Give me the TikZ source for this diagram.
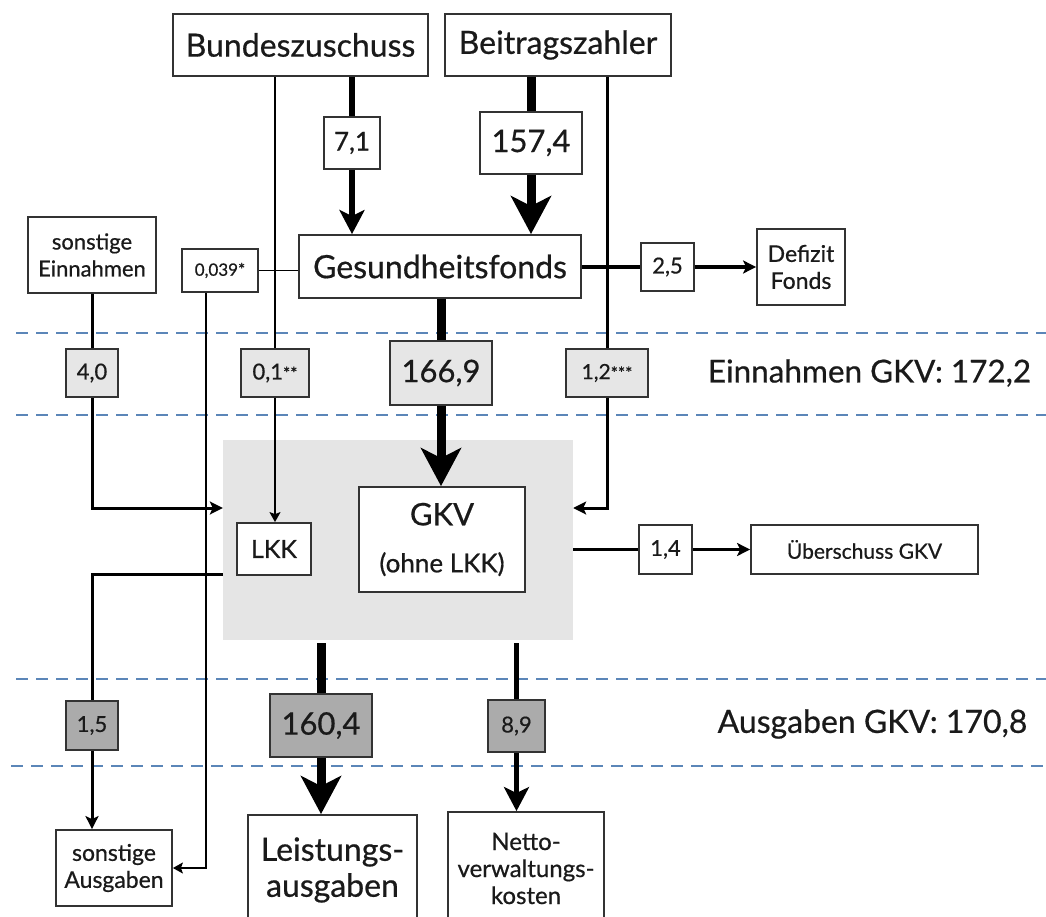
\documentclass[tikz,border=0pt]{standalone}
\usepackage{fontspec}
\setmainfont{Lato}[FakeBold=0.6,AutoFakeBold=0.6]
\usetikzlibrary{arrows.meta}
\definecolor{lgray}{HTML}{E6E6E6}
\definecolor{dgray}{HTML}{ABABAB}
\definecolor{kvgray}{HTML}{E5E5E5}
\definecolor{dashblue}{HTML}{5B86B8}
\definecolor{bord}{HTML}{333333}
\definecolor{txt}{HTML}{1A1A1A}
\newcommand\fs[2]{\fontsize{#1}{#2}\selectfont}
\tikzset{
  box/.style={draw=bord, line width=1.8pt, fill=white, inner sep=0pt, align=center, text=txt},
  lbox/.style={box, fill=lgray},
  dbox/.style={box, fill=dgray},
  thinln/.style={line width=1.6pt, draw=black},
  medln/.style={line width=3pt, draw=black},
  fatln/.style={line width=5.5pt, draw=black},
  hugeln/.style={line width=9pt, draw=black},
  tipS/.style={-{Stealth[length=10pt,width=11pt,inset=2pt]}},
  tipM/.style={-{Stealth[length=13pt,width=13pt,inset=3pt]}},
  tipF/.style={-{Stealth[length=24pt,width=25pt,inset=6pt]}},
  tipH/.style={-{Stealth[length=38pt,width=40pt,inset=10pt]}},
  sepline/.style={draw=dashblue, line width=1.5pt, dash pattern=on 12pt off 8pt},
}
\begin{document}
\begin{tikzpicture}[x=1pt,y=-1pt]
\useasboundingbox (0,0) rectangle (1046,917);
\clip (0,0) rectangle (1046,917);
% separators
\coordinate (s1a) at (16,333); \coordinate (s1b) at (1046,333);
\coordinate (s2a) at (16,415); \coordinate (s2b) at (1046,415);
\coordinate (s3a) at (16,679); \coordinate (s3b) at (1046,679);
\coordinate (s4a) at (11,766); \coordinate (s4b) at (1046,766);
\draw[sepline] (s1a) -- (s1b);
\draw[sepline] (s2a) -- (s2b);
\draw[sepline] (s3a) -- (s3b);
\draw[sepline] (s4a) -- (s4b);
% grey GKV area
\node[fill=kvgray, minimum width=350pt, minimum height=200pt, inner sep=0pt] (kv) at (398,540) {};
% nodes
\node[box, minimum width=255pt, minimum height=62pt, font=\fs{32}{36}] (bund) at (300.5,45) {Bundeszuschuss};
\node[box, minimum width=226pt, minimum height=62pt, font=\fs{32}{36}] (beit) at (558,45) {Beitragszahler};
\node[box, minimum width=56pt, minimum height=52pt, font=\fs{26}{28}] (v71) at (352,143) {7,1};
\node[box, minimum width=102pt, minimum height=62pt, font=\fs{31}{34}] (v157) at (531,143) {157,4};
\node[box, minimum width=282pt, minimum height=63pt, font=\fs{32}{36}] (fonds) at (440,266.5) {Gesundheitsfonds};
\node[box, minimum width=128pt, minimum height=76pt, font=\fs{22}{27}] (sonstE) at (92,255) {sonstige\\Einnahmen};
\node[box, minimum width=76pt, minimum height=43pt, font=\fs{17}{18}] (v0039) at (220,270.5) {0,039*};
\node[box, minimum width=88pt, minimum height=76pt, font=\fs{23}{27}] (defizit) at (801,267) {Defizit\\Fonds};
\node[box, minimum width=53pt, minimum height=48pt, font=\fs{22}{24}] (v25) at (667.5,267) {2,5};
\node[lbox, minimum width=52pt, minimum height=48pt, font=\fs{22}{24}] (v40) at (92,373) {4,0};
\node[lbox, minimum width=68pt, minimum height=48pt, font=\fs{22}{24}] (v01) at (275,373) {0,1{\fs{17}{18}**}};
\node[lbox, minimum width=102pt, minimum height=64pt, font=\fs{31}{34}] (v1669) at (441,373) {166,9};
\node[lbox, minimum width=82pt, minimum height=48pt, font=\fs{21}{24}] (v12) at (607,373) {1,2{\fs{17}{18}***}};
\node[font=\fs{31.5}{34}, text=txt] (einn) at (869.5,373) {Einnahmen GKV: 172,2};
\node[box, minimum width=74pt, minimum height=52pt, font=\fs{25}{30}] (lkk) at (274,549) {LKK};
\node[box, minimum width=166pt, minimum height=105pt, font=\fs{31}{47}] (gkv) at (442,539.5) {GKV\\{\fs{26}{30}(ohne LKK)}};
\node[box, minimum width=53pt, minimum height=49pt, font=\fs{22}{24}] (v14) at (665.5,549.5) {1,4};
\node[box, minimum width=227pt, minimum height=49pt, font=\fs{21}{24}] (ueber) at (864.5,549.5) {Überschuss GKV};
\node[dbox, minimum width=52pt, minimum height=49pt, font=\fs{22}{24}] (v15) at (92,725.5) {1,5};
\node[dbox, minimum width=102pt, minimum height=63pt, font=\fs{31}{34}] (v1604) at (321,725.5) {160,4};
\node[dbox, minimum width=57pt, minimum height=52pt, font=\fs{22}{24}] (v89) at (516.5,726) {8,9};
\node[font=\fs{32}{34}, text=txt] (ausg) at (872.5,724) {Ausgaben GKV: 170,8};
\node[box, minimum width=116pt, minimum height=76pt, font=\fs{23}{27}] (sonstA) at (114,868) {sonstige\\Ausgaben};
\node[box, minimum width=169pt, minimum height=110pt, font=\fs{32}{36}] (leist) at (332.5,870) {Leistungs-\\ausgaben};
\node[box, minimum width=156pt, minimum height=113pt, font=\fs{24}{27}] (netto) at (526,868.5) {Netto-\\verwaltungs-\\kosten};
% connectors
\draw[fatln] (bund.south -| v71) -- (v71.north);
\draw[fatln, tipF] (v71.south) -- (v71 |- fonds.north);
\draw[hugeln] (beit.south -| v157) -- (v157.north);
\draw[hugeln, tipH] (v157.south) -- (v157 |- fonds.north);
\draw[thinln] (bund.south -| v01) -- (v01.north);
\draw[thinln, tipS] (v01.south) -- (v01 |- lkk.north);
\draw[thinln] (v0039.east) -- (v0039.east -| fonds.west);
\draw[thinln, tipS] ([xshift=-14pt]v0039.south) |- (sonstA.east);
\draw[medln] (beit.south -| v12) -- (v12.north);
\draw[medln, tipM] (v12.south) |- ([yshift=32pt]kv.east);
\draw[medln] (fonds.east |- v25) -- (v25.west);
\draw[medln, tipM] (v25.east) -- (defizit.west);
\draw[medln] (sonstE.south) -- (v40.north);
\draw[medln, tipM] (v40.south) |- ([yshift=32pt]kv.west);
\draw[hugeln] (fonds.south -| v1669) -- (v1669.north);
\draw[hugeln, tipH] (v1669.south) -- (v1669 |- gkv.north);
\draw[medln] (kv.east |- v14) -- (v14.west);
\draw[medln, tipM] (v14.east) -- (ueber.west);
\draw[medln] ([yshift=-34pt]kv.west) -| (v15.north);
\draw[medln, tipM] (v15.south) -- (v15 |- sonstA.north);
\draw[hugeln] ([yshift=-3pt]kv.south -| v1604) -- (v1604.north);
\draw[hugeln, tipH] (v1604.south) -- (v1604 |- leist.north);
\draw[fatln] ([yshift=-3pt]kv.south -| v89) -- (v89.north);
\draw[fatln, tipF] (v89.south) -- (v89 |- netto.north);
\end{tikzpicture}
\end{document}
